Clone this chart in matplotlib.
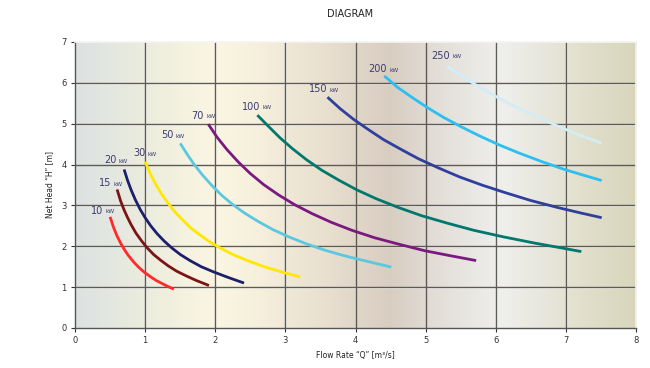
import numpy as np
import matplotlib
matplotlib.use("Agg")
import matplotlib.pyplot as plt
from matplotlib.colors import LinearSegmentedColormap


# power curves: flow rate Q [m3/s] vs net head H [m]
POWERS = ["10", "15", "20", "30", "50", "70", "100", "150", "200", "250"]

Q_10 = [0.50, 0.55, 0.60, 0.65, 0.70, 0.75, 0.80, 0.85, 0.90, 0.95, 1.00, 1.08, 1.16, 1.24, 1.32, 1.41]
H_10 = [2.72, 2.46, 2.25, 2.08, 1.93, 1.80, 1.69, 1.59, 1.50, 1.42, 1.35, 1.25, 1.16, 1.09, 1.02, 0.95]
Q_15 = [0.60, 0.65, 0.70, 0.75, 0.80, 0.87, 0.95, 1.03, 1.12, 1.22, 1.33, 1.45, 1.58, 1.72, 1.91]
H_15 = [3.39, 3.11, 2.89, 2.70, 2.53, 2.32, 2.13, 1.96, 1.80, 1.66, 1.52, 1.39, 1.28, 1.17, 1.04]
Q_20 = [0.70, 0.75, 0.80, 0.86, 0.93, 1.00, 1.08, 1.17, 1.27, 1.38, 1.50, 1.64, 1.80, 1.98, 2.18, 2.41]
H_20 = [3.88, 3.61, 3.38, 3.14, 2.90, 2.70, 2.50, 2.31, 2.13, 1.96, 1.80, 1.65, 1.50, 1.37, 1.24, 1.10]
Q_30 = [1.00, 1.07, 1.15, 1.23, 1.32, 1.42, 1.53, 1.65, 1.78, 1.92, 2.08, 2.26, 2.46, 2.68, 2.93, 3.21]
H_30 = [4.07, 3.79, 3.52, 3.29, 3.07, 2.85, 2.65, 2.45, 2.28, 2.11, 1.95, 1.79, 1.65, 1.51, 1.38, 1.25]
Q_50 = [1.50, 1.60, 1.70, 1.82, 1.95, 2.09, 2.25, 2.42, 2.61, 2.82, 3.05, 3.30, 3.57, 3.86, 4.17, 4.51]
H_50 = [4.52, 4.25, 4.00, 3.74, 3.49, 3.25, 3.02, 2.81, 2.61, 2.41, 2.23, 2.06, 1.90, 1.76, 1.63, 1.49]
Q_70 = [1.90, 2.03, 2.17, 2.33, 2.50, 2.69, 2.90, 3.13, 3.38, 3.65, 3.95, 4.27, 4.62, 4.99, 5.35, 5.72]
H_70 = [4.99, 4.66, 4.36, 4.06, 3.78, 3.51, 3.26, 3.02, 2.80, 2.59, 2.39, 2.21, 2.05, 1.89, 1.77, 1.65]
Q_100 = [2.60, 2.75, 2.92, 3.10, 3.30, 3.52, 3.76, 4.02, 4.30, 4.61, 4.94, 5.30, 5.69, 6.11, 6.55, 7.00, 7.22]
H_100 = [5.21, 4.95, 4.66, 4.39, 4.12, 3.86, 3.62, 3.38, 3.16, 2.95, 2.75, 2.57, 2.39, 2.23, 2.08, 1.94, 1.87]
Q_150 = [3.60, 3.78, 3.97, 4.18, 4.40, 4.64, 4.90, 5.18, 5.48, 5.80, 6.14, 6.50, 6.88, 7.20, 7.51]
H_150 = [5.65, 5.37, 5.11, 4.86, 4.61, 4.38, 4.14, 3.92, 3.70, 3.50, 3.31, 3.12, 2.95, 2.82, 2.70]
Q_200 = [4.41, 4.60, 4.80, 5.02, 5.25, 5.50, 5.77, 6.05, 6.35, 6.66, 6.98, 7.25, 7.51]
H_200 = [6.17, 5.89, 5.65, 5.40, 5.16, 4.93, 4.70, 4.48, 4.27, 4.07, 3.88, 3.74, 3.61]
Q_250 = [5.30, 5.47, 5.65, 5.84, 6.04, 6.25, 6.47, 6.70, 6.94, 7.20, 7.51]
H_250 = [6.41, 6.22, 6.02, 5.82, 5.63, 5.44, 5.26, 5.08, 4.90, 4.72, 4.52]

# label anchors (junction between number and "kW")
LABEL_Q = [0.41, 0.53, 0.60, 1.02, 1.41, 1.85, 2.65, 3.61, 4.46, 5.36]
LABEL_H = [2.87, 3.55, 4.11, 4.28, 4.72, 5.20, 5.42, 5.84, 6.33, 6.66]

CURVES = [(Q_10, H_10), (Q_15, H_15), (Q_20, H_20), (Q_30, H_30), (Q_50, H_50),
          (Q_70, H_70), (Q_100, H_100), (Q_150, H_150), (Q_200, H_200), (Q_250, H_250)]
COLORS = ["#ff2a2a", "#7a1416", "#1c1f6c", "#ffe800", "#5cc8e0",
          "#7a1a80", "#00786e", "#2f3f9c", "#2cbff0", "#d3edf5"]

fig = plt.figure(figsize=(6.5, 3.68), dpi=100)
ax = fig.add_axes([0.1154, 0.1087, 0.8631, 0.7772])

# background gradient
bg = LinearSegmentedColormap.from_list("bg", [
    (0.0, "#dde2e2"), (0.125, "#ecedde"), (0.25, "#fbf6e2"), (0.33, "#f5efdc"),
    (0.45, "#e8dfcf"), (0.56, "#d8cdc1"), (0.64, "#e2ddd6"), (0.76, "#efefed"),
    (0.88, "#e4e2d2"), (1.0, "#d8d6ba")])
ax.imshow(np.linspace(0, 1, 400).reshape(1, -1), cmap=bg, aspect="auto",
          extent=[0, 8, 0, 7], zorder=0)

# grid with a faint white highlight next to each line
for x in range(1, 8):
    ax.plot([x + 0.012, x + 0.012], [0, 7], color="#ffffff", lw=0.8, alpha=0.7, zorder=1)
    ax.plot([x, x], [0, 7], color="#5e5a55", lw=1.0, zorder=1.5)
for y in range(1, 7):
    ax.plot([0, 8], [y - 0.02, y - 0.02], color="#ffffff", lw=0.8, alpha=0.7, zorder=1)
    ax.plot([0, 8], [y, y], color="#5e5a55", lw=1.0, zorder=1.5)

for (q, h), c in zip(CURVES, COLORS):
    ax.plot(q, h, color=c, lw=2.0, solid_capstyle="butt", solid_joinstyle="round", zorder=3)

for p, lq, lh in zip(POWERS, LABEL_Q, LABEL_H):
    ax.annotate(p, (lq, lh), xytext=(-0.5, 0), textcoords="offset points",
                ha="right", va="center", fontsize=7, color="#3b3a72", zorder=4)
    ax.annotate("kW", (lq, lh), xytext=(1.0, -0.8), textcoords="offset points",
                ha="left", va="center", fontsize=4.2, color="#3b3a72", zorder=4)

ax.set_xlim(0, 8)
ax.set_ylim(0, 7)
ax.set_xticks(range(0, 9))
ax.set_yticks(range(0, 8))
ax.tick_params(labelsize=6, colors="#333333", length=3, width=0.8, pad=3)
for s in ["left", "bottom"]:
    ax.spines[s].set_color("#555555")
    ax.spines[s].set_linewidth(1.0)
for s in ["top", "right"]:
    ax.spines[s].set_color("#f4f4f4")
    ax.spines[s].set_linewidth(1.2)

ax.set_xlabel("Flow Rate \u201cQ\u201d [m\u00b3/s]", fontsize=5.5, color="#222222", labelpad=4)
ax.set_ylabel("Net Head \u201cH\u201d [m]", fontsize=5.5, color="#222222", labelpad=5)
fig.text(0.538, 0.963, "DIAGRAM", ha="center", va="center", fontsize=7, color="#222222")

fig.savefig("out.png", dpi=100)
